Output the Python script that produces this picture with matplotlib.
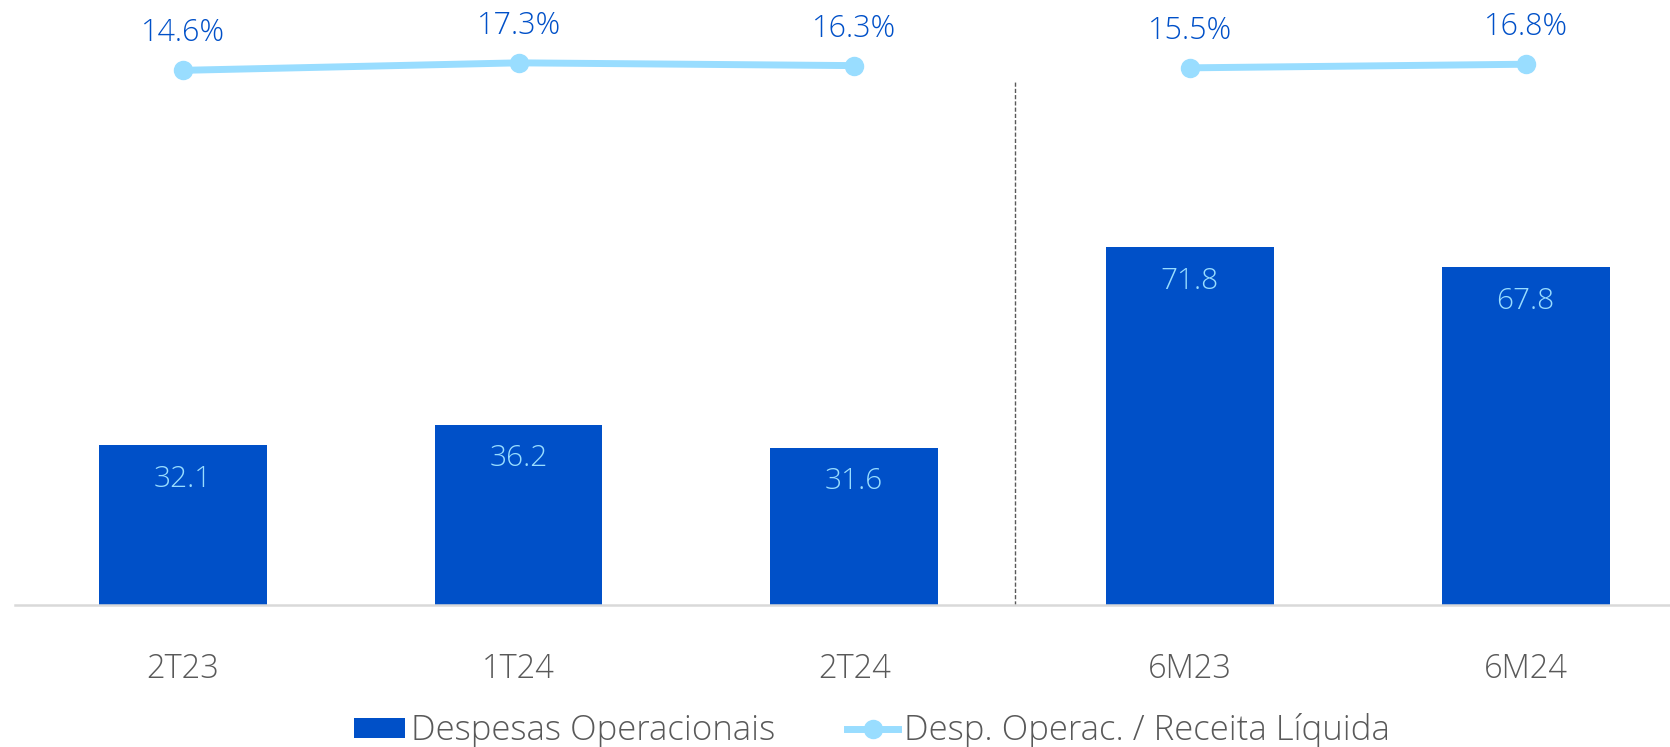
import matplotlib
matplotlib.use("Agg")
import matplotlib.pyplot as plt
from matplotlib.lines import Line2D
from matplotlib.patches import Patch

categories = ["2T23", "1T24", "2T24", "6M23", "6M24"]
despesas = [32.1, 36.2, 31.6, 71.8, 67.8]
ratio = [14.6, 17.3, 16.3, 15.5, 16.8]
bar_labels = ["32.1", "36.2", "31.6", "71.8", "67.8"]
ratio_labels = ["14.6%", "17.3%", "16.3%", "15.5%", "16.8%"]

BAR_C = "#0050C8"
LINE_C = "#99DDFF"
TXT_C = "#595959"
FONT = "Open Sans"
W = "light"
plt.rcParams["font.family"] = [FONT, "DejaVu Sans"]

fig = plt.figure(figsize=(16.7, 7.47), dpi=100)
ax = fig.add_axes([15/1670, (747-605)/747, 1 - 15/1670, 605/747])
x = list(range(len(categories)))
ax.bar(x, despesas, width=0.5, color=BAR_C, zorder=2)
ax.set_xlim(-0.5, 4.43)
ax.set_ylim(0, 121.5)
for xi, v, lab in zip(x, despesas, bar_labels):
    ax.annotate(lab, (xi, v), xytext=(0, -34), textcoords="offset pixels",
                ha="center", va="center", color=LINE_C, fontsize=21.5, fontweight=W)
ax.axvline(2.48, ymin=0, ymax=105/121.5, color="#595959", lw=1, ls=(0, (3, 1.5)), zorder=1)
for s in ["top", "right", "left"]:
    ax.spines[s].set_visible(False)
ax.spines["bottom"].set_color("#D9D9D9")
ax.spines["bottom"].set_linewidth(1.8)
ax.set_yticks([])
ax.set_xticks(x)
ax.set_xticklabels(categories, fontsize=23.5, color=TXT_C, fontweight=W)
ax.tick_params(axis="x", length=0, pad=34)

ax2 = ax.twinx()
ax2.set_ylim(-177.7, 39.9)
ax2.axis("off")
ax2.plot(x[:3], ratio[:3], color=LINE_C, lw=5, marker="o", markersize=13, zorder=3)
ax2.plot(x[3:], ratio[3:], color=LINE_C, lw=5, marker="o", markersize=13, zorder=3)
for xi, v, lab in zip(x, ratio, ratio_labels):
    ax2.annotate(lab, (xi, v), xytext=(0, 37), textcoords="offset pixels",
                 ha="center", va="center", color=BAR_C, fontsize=22, fontweight=W)

handles = [Patch(facecolor=BAR_C, edgecolor="none"),
           Line2D([], [], color=LINE_C, lw=5, marker="o", markersize=13)]
leg = fig.legend(handles, ["Despesas Operacionais", "Desp. Operac. / Receita Líquida"],
                 loc="center", bbox_to_anchor=(0.5 + 37/1670, 1 - 731/747), ncol=2, frameon=False,
                 prop={"size": 25, "weight": W},
                 handlelength=1.47, handletextpad=0.17, columnspacing=2.07,
                 handleheight=0.52)
for t in leg.get_texts():
    t.set_color(TXT_C)

fig.savefig("out.png", dpi=100)
